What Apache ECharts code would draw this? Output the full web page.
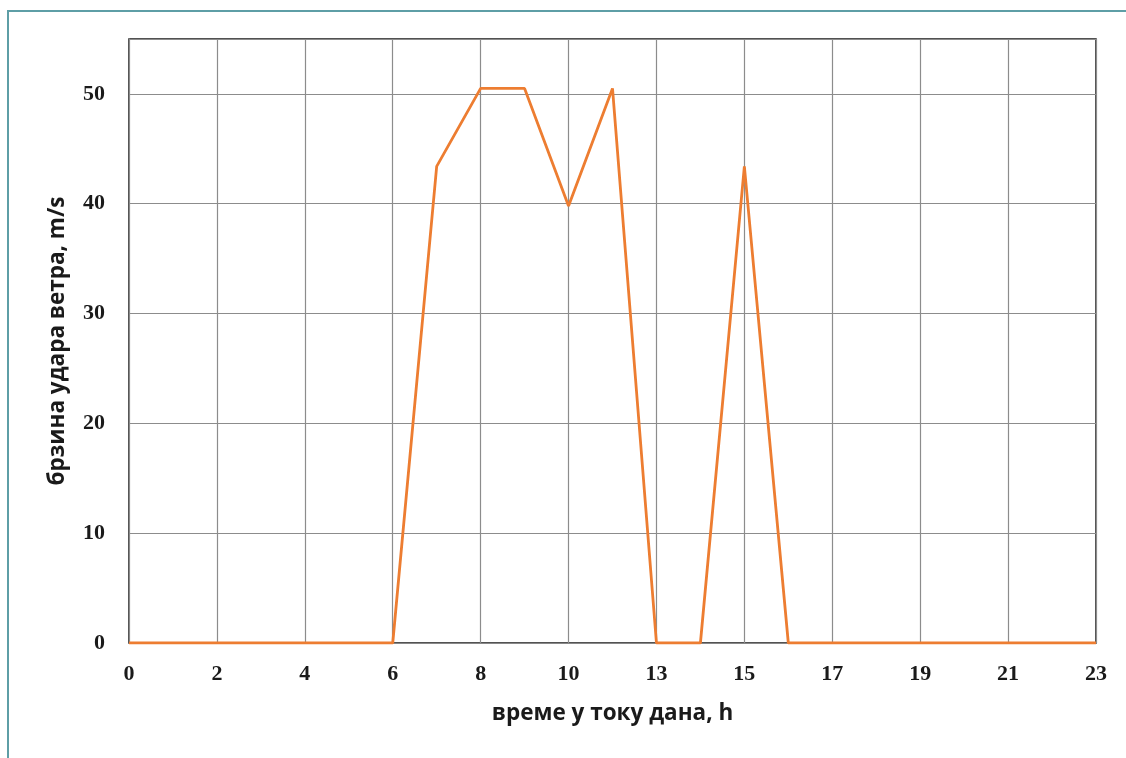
<!DOCTYPE html>
<html>
<head>
<meta charset="utf-8">
<script src="https://cdn.jsdelivr.net/npm/echarts@6/dist/echarts.min.js"></script>
<style>
html,body{margin:0;padding:0;background:#fff;}
#c{width:1126px;height:758px;}
</style>
</head>
<body>
<div id="c"></div>
<script>
const hours = ['0','1','2','3','4','5','6','7','8','9','10','11','13','14','15','16','17','18','19','20','21','22','23'];
const gust = [0,0,0,0,0,0,0,43.4,50.5,50.5,39.8,50.5,0,0,43.4,0,0,0,0,0,0,0,0];
const xTitle = 'време у току дана, h';
const yTitle = 'брзина удара ветра, m/s';

const chart = echarts.init(document.getElementById('c'), null, {renderer:'canvas'});
chart.setOption({
  backgroundColor:'#ffffff',
  animation:false,
  graphic:[
    {type:'polyline', shape:{points:[[8,760],[8,11],[1130,11]]}, style:{stroke:'#5e9ea6', lineWidth:2, fill:null}, z:0}
  ],
  grid:{left:129, right:30, top:39, bottom:115, show:true, borderColor:'#1a1a1a', borderWidth:1.5, backgroundColor:'transparent'},
  xAxis:{
    type:'category', data:hours, boundaryGap:false,
    name:xTitle, nameLocation:'middle', nameGap:59,
    nameTextStyle:{fontFamily:'Open Sans', fontWeight:'bold', fontSize:22.5, color:'#1a1a1a'},
    axisLine:{show:true, lineStyle:{color:'#888', width:1}},
    axisTick:{show:false},
    axisLabel:{interval:1, margin:20, fontFamily:'Liberation Serif', fontWeight:'bold', fontSize:22, color:'#1a1a1a'},
    splitLine:{show:true, interval:1, lineStyle:{color:'#8c8c8c', width:1.2}}
  },
  yAxis:{
    type:'value', min:0, max:55, interval:10,
    name:yTitle, nameLocation:'middle', nameGap:60, nameRotate:90,
    nameTextStyle:{fontFamily:'Open Sans', fontWeight:'bold', fontSize:22.5, color:'#1a1a1a'},
    axisLine:{show:true, lineStyle:{color:'#888', width:1}},
    axisTick:{show:false},
    axisLabel:{margin:24, showMaxLabel:false, fontFamily:'Liberation Serif', fontWeight:'bold', fontSize:22, color:'#1a1a1a'},
    splitLine:{show:true, lineStyle:{color:'#8c8c8c', width:1.2}}
  },
  series:[{
    type:'line', data:gust, showSymbol:false, symbol:'none',
    lineStyle:{color:'#ed7d31', width:2.8}, itemStyle:{color:'#ed7d31'}, z:5
  }]
});
</script>
</body>
</html>
